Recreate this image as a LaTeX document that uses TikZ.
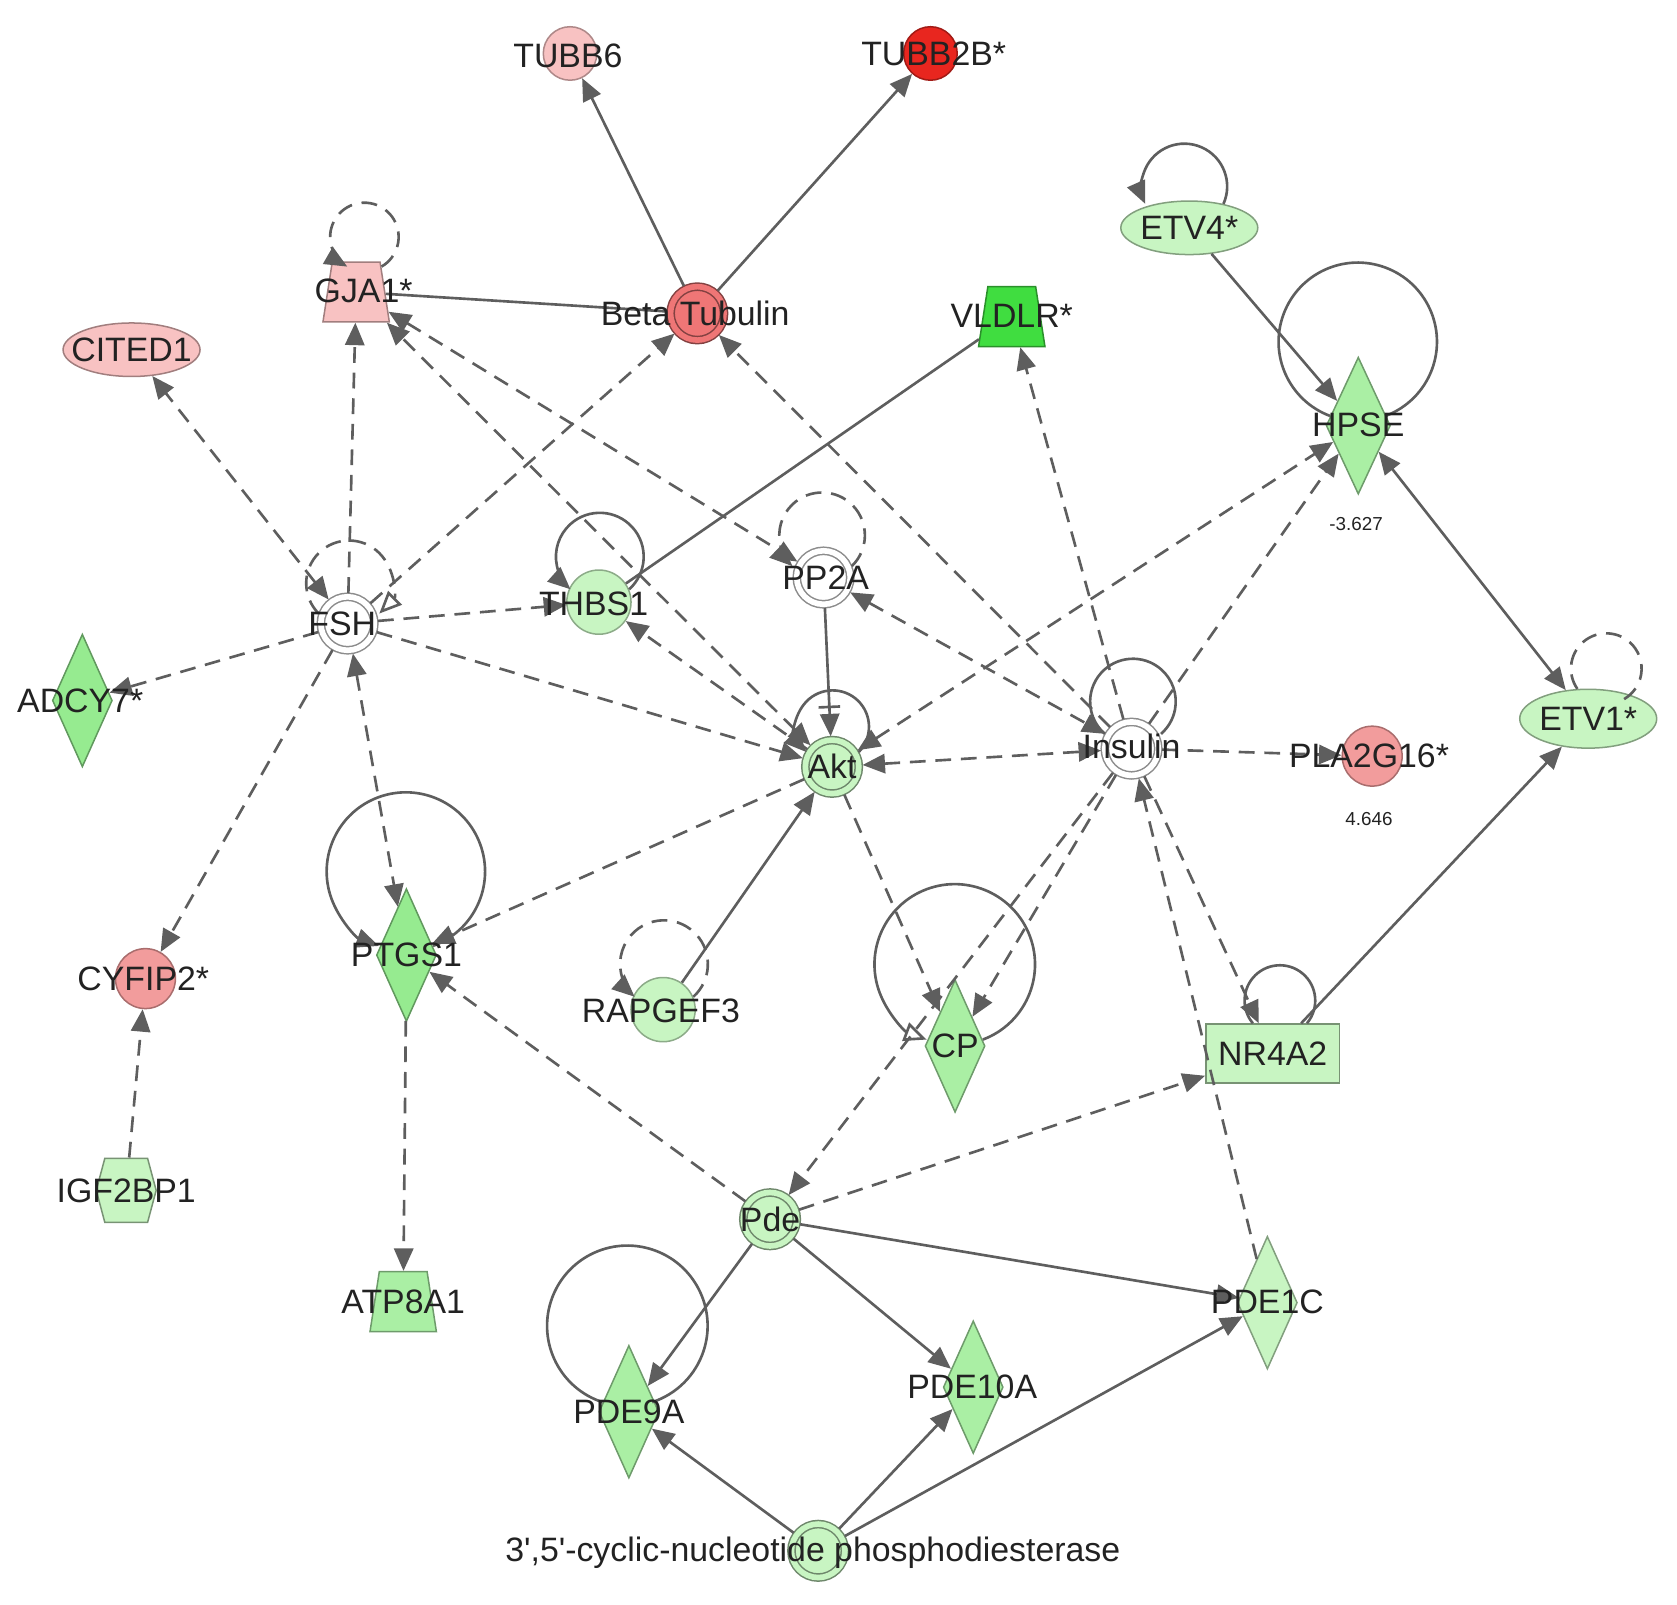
\documentclass[tikz,border=0pt]{standalone}
\usepackage{fontspec}
\setmainfont{Liberation Sans}[Ligatures=TeXOff]
\usetikzlibrary{arrows.meta,shapes.geometric,shapes.symbols}
\definecolor{edgegray}{HTML}{5E5E5E}
\definecolor{txtgray}{HTML}{222222}
\definecolor{pinklt}{HTML}{F8C2C2}
\definecolor{pinkmd}{HTML}{F29C9C}
\definecolor{redmd}{HTML}{EF7676}
\definecolor{redhi}{HTML}{E8261F}
\definecolor{greenlt}{HTML}{C8F5C2}
\definecolor{greenmd}{HTML}{AAEFA4}
\definecolor{greensat}{HTML}{96EB90}
\definecolor{greenhi}{HTML}{40DD40}

\begin{document}
\begin{tikzpicture}[
x=0.01cm, y=-0.01cm,
font=\fontsize{9}{11}\selectfont,
mol/.style={circle, fill=#1, draw=#1!70!black, line width=0.4pt, minimum size=0.56cm, inner sep=0pt},
cplx/.style={circle, fill=#1, draw=#1!55!black, double=#1, double distance=1.5pt, line width=0.4pt, minimum size=0.5cm, inner sep=0pt, outer sep=1pt},
ovl/.style={ellipse, fill=#1, draw=#1!65!black, line width=0.4pt, minimum width=1.28cm, minimum height=0.5cm, inner sep=0pt},
dia/.style={diamond, fill=#1, draw=#1!65!black, line width=0.4pt, minimum width=0.56cm, minimum height=1.24cm, inner sep=0pt},
trap/.style={trapezium, trapezium left angle=79, trapezium right angle=79, trapezium stretches=true, fill=#1, draw=#1!65!black, line width=0.4pt, minimum width=0.62cm, minimum height=0.56cm, inner sep=1pt},
lbl/.style={text=txtgray, inner sep=0pt},
val/.style={text=txtgray, inner sep=0pt, font=\fontsize{5}{6}\selectfont},
sline/.style={draw=edgegray, line width=0.7pt},
dline/.style={sline, dash pattern=on 4.2pt off 2.6pt},
tip/.style={-{Triangle[length=0.21cm, width=0.18cm]}},
sarr/.style={sline, tip},
sboth/.style={sline, {Triangle[length=0.21cm, width=0.18cm]}-{Triangle[length=0.21cm, width=0.18cm]}},
sinh/.style={sline, -{Bar[width=0.2cm, sep=1.5pt]Triangle[length=0.21cm, width=0.18cm]}},
darr/.style={dline, tip},
dboth/.style={dline, {Triangle[length=0.21cm, width=0.18cm]}-{Triangle[length=0.21cm, width=0.18cm]}},
opentip/.style={-{Triangle[open, fill=white, length=0.21cm, width=0.18cm]}}
]
\useasboundingbox (0,0) rectangle (1568,1500);

% molecules
\node[mol=pinklt, minimum size=0.5cm] (tubb6) at (533,50) {};
\node[mol=redhi, minimum size=0.5cm] (tubb2b) at (870,50) {};
\node[trap=pinklt] (gja1) at (333,273) {};
\node[cplx=redmd] (beta) at (652,293) {};
\node[ovl=pinklt] (cited1) at (123,327) {};
\node[trap=greenhi] (vldlr) at (946,296) {};
\node[ovl=greenlt] (etv4) at (1112,213) {};
\node[dia=greenmd, minimum width=0.6cm, minimum height=1.28cm] (hpse) at (1270,398) {};
\node[cplx=white] (fsh) at (325,583) {};
\node[mol=greenlt, minimum size=0.6cm] (thbs1) at (560,563) {};
\node[cplx=white] (pp2a) at (770,540) {};
\node[dia=greensat] (adcy7) at (77,655) {};
\node[cplx=greenlt] (akt) at (778,717) {};
\node[cplx=white] (insulin) at (1058,700) {};
\node[mol=pinkmd] (pla2g16) at (1283,707) {};
\node[ovl=greenlt, minimum height=0.55cm] (etv1) at (1485,672) {};
\node[mol=pinkmd] (cyfip2) at (136,915) {};
\node[dia=greensat] (ptgs1) at (380,893) {};
\node[mol=greenlt, minimum size=0.6cm] (rapgef3) at (620,944) {};
\node[dia=greenmd] (cp) at (893,978) {};
\node[rectangle, fill=greenlt, draw=greenlt!60!black, line width=0.4pt, minimum width=1.25cm, minimum height=0.55cm] (nr4a2) at (1190,985) {};
\node[signal, signal to=west and east, signal pointer angle=150, fill=greenlt, draw=greenlt!60!black, line width=0.4pt, minimum width=0.56cm, minimum height=0.6cm, inner sep=0pt] (igf2bp1) at (118,1113) {};
\node[trap=greenmd] (atp8a1) at (377,1217) {};
\node[cplx=greenlt] (pde) at (720,1140) {};
\node[dia=greenlt] (pde1c) at (1185,1218) {};
\node[dia=greenmd] (pde10a) at (910,1297) {};
\node[dia=greenmd] (pde9a) at (588,1320) {};
\node[cplx=greenlt] (cnp) at (765,1450) {};

% self loops
\draw[sarr] (thbs1.23) arc[start angle=-48, end angle=228, radius=0.41cm];
\draw[darr] (rapgef3.23) arc[start angle=-48, end angle=228, radius=0.41cm];
\draw[darr] (pp2a.22) arc[start angle=-46, end angle=226, radius=0.4cm];
\draw[dline, opentip] (fsh.161) arc[start angle=225, end angle=-45, radius=0.4cm];
\draw[sarr] (akt.29) arc[start angle=-44, end angle=224, radius=0.34cm];
\draw[sline] (insulin.151) arc[start angle=229, end angle=-49, radius=0.4cm];
\draw[darr] (gja1.north east) arc[start angle=-60, end angle=240, radius=0.32cm];
\draw[sarr] (etv4.35) arc[start angle=-24, end angle=204, radius=0.4cm];
\draw[dline] (etv1.110) arc[start angle=215, end angle=-60, radius=0.33cm];
\draw[sline] ([xshift=0.32cm]nr4a2.north) arc[start angle=-40, end angle=220, radius=0.33cm];
\draw[sline] (hpse.161) arc[start angle=249.5, end angle=-69.5, radius=0.74cm];
\draw[sarr] (ptgs1.19) arc[start angle=-70, end angle=250, radius=0.74cm];
\draw[sline, opentip] (cp.13) arc[start angle=-69.5, end angle=249.5, radius=0.75cm];
\draw[sline] (pde9a.160) arc[start angle=252, end angle=-72, radius=0.75cm];

% solid links
\draw[sarr] (beta) -- (tubb6);
\draw[sarr] (beta) -- (tubb2b);
\draw[sline] (beta) -- (gja1);
\draw[sline] (vldlr) -- (thbs1);
\draw[sarr] (etv4) -- (hpse);
\draw[sboth] (hpse) -- (etv1);
\draw[sarr] (nr4a2) -- (etv1);
\draw[sinh] (pp2a) -- (akt);
\draw[sarr] (rapgef3) -- (akt);
\draw[sarr] (pde) -- (pde9a);
\draw[sarr] (pde) -- (pde10a);
\draw[sarr] (pde) -- (pde1c);
\draw[sarr] (cnp) -- (pde9a);
\draw[sarr] (cnp) -- (pde10a);
\draw[sarr] (cnp) -- (pde1c);

% dashed links
\draw[dboth] (fsh) -- (cited1);
\draw[darr] (fsh) -- (gja1);
\draw[darr] (fsh) -- (beta);
\draw[darr] (fsh) -- (thbs1);
\draw[darr] (fsh) -- (adcy7);
\draw[darr] (fsh) -- (cyfip2);
\draw[dboth] (fsh) -- (ptgs1);
\draw[darr] (fsh) -- (akt);
\draw[dboth] (gja1) -- (pp2a);
\draw[dboth] (akt) -- (gja1);
\draw[darr] (akt) -- (thbs1);
\draw[dboth] (pp2a) -- (insulin);
\draw[darr] (insulin) -- (beta);
\draw[darr] (insulin) -- (vldlr);
\draw[darr] (insulin) -- (hpse);
\draw[dboth] (akt) -- (hpse);
\draw[dboth] (akt) -- (insulin);
\draw[darr] (insulin) -- (pla2g16);
\draw[darr] (akt) -- (ptgs1);
\draw[darr] (akt) -- (cp);
\draw[darr] (insulin) -- (cp);
\draw[darr] (insulin) -- (pde);
\draw[darr] (insulin) -- (nr4a2);
\draw[darr] (pde1c) -- (insulin);
\draw[darr] (pde) -- (nr4a2);
\draw[darr] (pde) -- (ptgs1);
\draw[darr] (ptgs1) -- (atp8a1);
\draw[darr] (igf2bp1) -- (cyfip2);

% labels
\node[lbl] (tubb6-l) at (531,52) {TUBB6};
\node[lbl] (tubb2b-l) at (873,50) {TUBB2B*};
\node[lbl] (gja1-l) at (340,272) {GJA1*};
\node[lbl] (beta-l) at (650,293) {Beta Tubulin};
\node[lbl] (cited1-l) at (123,327) {CITED1};
\node[lbl] (vldlr-l) at (946,295) {VLDLR*};
\node[lbl] (etv4-l) at (1112,213) {ETV4*};
\node[lbl] (hpse-l) at (1270,397) {HPSE};
\node[val] (hpse-v) at (1268,490) {-3.627};
\node[lbl] (fsh-l) at (320,583) {FSH};
\node[lbl] (thbs1-l) at (555,565) {THBS1};
\node[lbl] (pp2a-l) at (772,540) {PP2A};
\node[lbl] (adcy7-l) at (75,655) {ADCY7*};
\node[lbl] (akt-l) at (778,717) {Akt};
\node[lbl] (insulin-l) at (1058,698) {Insulin};
\node[lbl] (pla2g16-l) at (1280,707) {PLA2G16*};
\node[val] (pla2g16-v) at (1280,766) {4.646};
\node[lbl] (etv1-l) at (1485,672) {ETV1*};
\node[lbl] (cyfip2-l) at (134,915) {CYFIP2*};
\node[lbl] (ptgs1-l) at (380,893) {PTGS1};
\node[lbl] (rapgef3-l) at (618,945) {RAPGEF3};
\node[lbl] (cp-l) at (893,978) {CP};
\node[lbl] (nr4a2-l) at (1190,985) {NR4A2};
\node[lbl] (igf2bp1-l) at (118,1113) {IGF2BP1};
\node[lbl] (atp8a1-l) at (377,1217) {ATP8A1};
\node[lbl] (pde-l) at (720,1140) {Pde};
\node[lbl] (pde1c-l) at (1185,1217) {PDE1C};
\node[lbl] (pde10a-l) at (909,1297) {PDE10A};
\node[lbl] (pde9a-l) at (588,1320) {PDE9A};
\node[lbl] (cnp-l) at (760,1452) {3',5'-cyclic-nucleotide phosphodiesterase};
\end{tikzpicture}
\end{document}
